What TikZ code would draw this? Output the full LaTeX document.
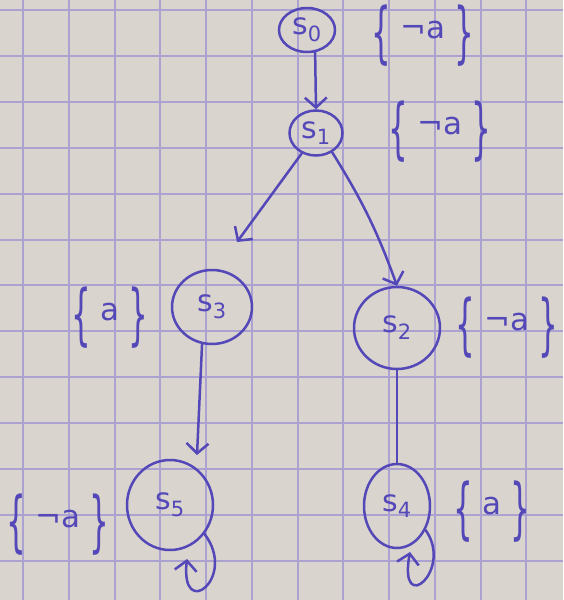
\documentclass[tikz,border=0pt]{standalone}
\usepackage{fontspec}
\usepackage{graphicx}
\setmainfont{DejaVu Sans}
\usetikzlibrary{arrows.meta,shapes.geometric}
\definecolor{paper}{RGB}{217,212,206}
\definecolor{gridline}{RGB}{172,162,210}
\definecolor{ink}{RGB}{84,72,184}
% tall braces round a set of atomic propositions
\newcommand\tallbrace[1]{\raisebox{-0.55em}{\scalebox{1}[2.15]{#1}}}
\newcommand\propset[1]{\tallbrace{\{}\hspace{0.3em}#1\hspace{0.3em}\tallbrace{\}}}
\newcommand\st[1]{s\textsubscript{#1}}
\begin{document}
\begin{tikzpicture}[x=1pt,y=-1pt,
  state/.style={draw=ink, line width=2.5pt, ellipse, inner sep=0pt, text=ink,
                font=\fontsize{30}{34}\selectfont},
  props/.style={text=ink, inner sep=0pt, font=\fontsize{31}{35}\selectfont},
  edge/.style={draw=ink, line width=2.5pt, line cap=round,
               -{Straight Barb[length=10pt,width=22pt,line width=2.5pt]}},
  plain/.style={draw=ink, line width=2.5pt, line cap=round}]
% squared paper
\fill[paper] (0,0) rectangle (563,600);
\useasboundingbox (0,0) rectangle (563,600);
\foreach \x in {23,69,115,160,206,252,298,343,389,435,481,526}
  \draw[gridline, line width=2pt] (\x,0) -- (\x,600);
\foreach \y in {10,56,102,148,194,240,285,331,377,423,469,515,561}
  \draw[gridline, line width=2pt] (0,\y) -- (563,\y);

% states
\node[state, minimum width=56pt, minimum height=44pt] (s0) at (307,30) {\st0};
\node[state, minimum width=53pt, minimum height=45pt] (s1) at (316,133) {\st1};
\node[state, minimum width=86pt, minimum height=82pt] (s2) at (397,328) {\st2};
\node[state, minimum width=80pt, minimum height=74pt] (s3) at (212,307) {\st3};
\node[state, minimum width=66pt, minimum height=84pt] (s4) at (397,506) {\st4};
\node[state, minimum width=86pt, minimum height=90pt] (s5) at (170,505) {\st5};

% labelling of the states
\node[props] (p0) at (423,36)  {\propset{¬a}};
\node[props] (p1) at (440,132) {\propset{¬a}};
\node[props] (p2) at (507,328) {\propset{¬a}};
\node[props] (p3) at (110,318) {\propset{a}};
\node[props] (p4) at (492,512) {\propset{a}};
\node[props] (p5) at (58,525)  {\propset{¬a}};

% free ends of the arrows
\coordinate (e3) at (237,242);
\coordinate (e5) at (197,455);
\coordinate (l4) at (410,552);
\coordinate (l5) at (187,559);

% transitions
\draw[edge] (s0.-70) -- (s1.north);
\draw[edge] (s1.235) -- (e3);
\draw[edge] (s1.-50) to[bend left=6] (s2.north);
\draw[edge] (s3.255) -- (e5);
\draw[plain] (s2.south) -- (s4.north);
\draw[edge] (s4.-40) .. controls (454,570) and (398,618) .. (l4);
\draw[edge] (s5.-40) .. controls (238,578) and (180,622) .. (l5);
\end{tikzpicture}
\end{document}
